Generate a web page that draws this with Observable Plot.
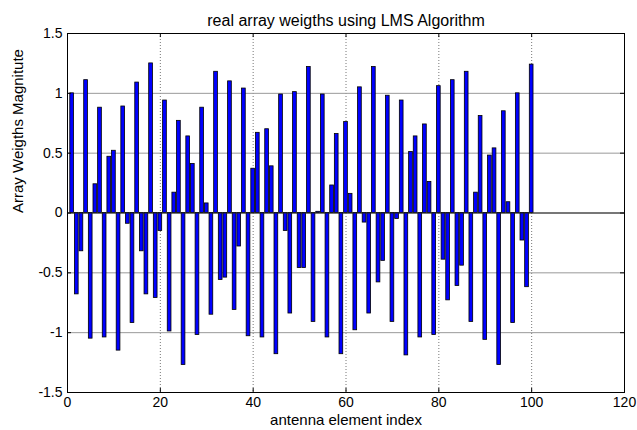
<!DOCTYPE html>
<html><head><meta charset="utf-8">
<script src="https://cdn.jsdelivr.net/npm/d3@7"></script>
<script src="https://cdn.jsdelivr.net/npm/@observablehq/plot@0.6"></script>
<style>html,body{margin:0;padding:0;background:#fff;} svg{display:block;}</style>
</head><body><div id="chart"></div>
<script>
const weights = [
  1.00, -0.68, -0.32, 1.11, -1.05, 0.24, 0.88, -1.04, 0.47, 0.52,
  -1.15, 0.89, -0.09, -0.92, 1.09, -0.32, -0.68, 1.25, -0.71, -0.15,
  0.94, -0.99, 0.17, 0.77, -1.27, 0.64, 0.41, -1.02, 0.88, 0.08,
  -0.85, 1.18, -0.56, -0.54, 1.10, -0.81, -0.28, 1.04, -1.03, 0.37,
  0.67, -1.04, 0.70, 0.39, -1.18, 0.99, -0.15, -0.84, 1.01, -0.46,
  -0.46, 1.22, -0.91, 0.01, 0.99, -1.04, 0.23, 0.66, -1.18, 0.76,
  0.16, -0.98, 1.05, -0.08, -0.84, 1.22, -0.58, -0.40, 0.98, -0.91,
  -0.05, 0.94, -1.19, 0.51, 0.64, -1.04, 0.74, 0.26, -1.02, 1.06,
  -0.39, -0.73, 1.11, -0.61, -0.44, 1.18, -0.91, 0.17, 0.81, -1.06,
  0.48, 0.54, -1.27, 0.85, 0.09, -0.92, 1.00, -0.23, -0.62, 1.24
];
const elementIndex = weights.map((_, k) => k + 1);
const xTicks = [0, 20, 40, 60, 80, 100, 120];
const yTicks = [-1.5, -1, -0.5, 0, 0.5, 1, 1.5];
const titleText = "real array weigths using LMS Algorithm";
const xLabelText = "antenna element index";
const yLabelText = "Array Weigths Magnitute";

const data = elementIndex.map((i, k) => ({i, v: weights[k]}));
const barHalf = 0.4;
const xTickLen = 0.034; // in y units (~4px)
const yTickLen = 0.86;  // in x units (~4px)

const chart = Plot.plot({
  width: 637, height: 430,
  marginTop: 33, marginBottom: 38, marginLeft: 67, marginRight: 13,
  style: {fontFamily: "'Liberation Sans', Arial, sans-serif", fontSize: "14px", background: "#fff", color: "#000"},
  x: {domain: [0, 120]},
  y: {domain: [-1.5, 1.5]},
  marks: [
    Plot.ruleX(xTicks.slice(1, -1), {stroke: "#777", strokeDasharray: "1,2", strokeWidth: 1}),
    Plot.ruleY(yTicks.slice(1, -1), {stroke: "#999", strokeWidth: 1}),
    Plot.rect(data, {x1: d => d.i - barHalf, x2: d => d.i + barHalf, y1: 0, y2: "v", fill: "#0000ff", stroke: "#000", strokeWidth: 0.8}),
    Plot.ruleY([0], {stroke: "#222", strokeWidth: 1}),
    Plot.ruleX(xTicks, {y1: -1.5, y2: -1.5 + xTickLen, stroke: "#000"}),
    Plot.ruleX(xTicks, {y1: 1.5 - xTickLen, y2: 1.5, stroke: "#000"}),
    Plot.ruleY(yTicks, {x1: 0, x2: yTickLen, stroke: "#000"}),
    Plot.ruleY(yTicks, {x1: 120 - yTickLen, x2: 120, stroke: "#000"}),
    Plot.frame({stroke: "#000", strokeWidth: 1}),
    Plot.axisX({ticks: xTicks, tickSize: 0, tickPadding: 5, tickFormat: d => String(d), label: null, fontSize: 14}),
    Plot.axisY({ticks: yTicks, tickSize: 0, tickPadding: 5, tickFormat: d => String(d), label: null, fontSize: 14}),
    Plot.text([titleText], {frameAnchor: "top", dy: -19, fontSize: 16, fill: "#000"}),
    Plot.text([xLabelText], {frameAnchor: "bottom", dy: 32, fontSize: 15, fill: "#000"}),
    Plot.text([yLabelText], {frameAnchor: "left", dx: -49, rotate: -90, fontSize: 15, fill: "#000"})
  ]
});
document.getElementById("chart").appendChild(chart);
</script>
</body></html>
